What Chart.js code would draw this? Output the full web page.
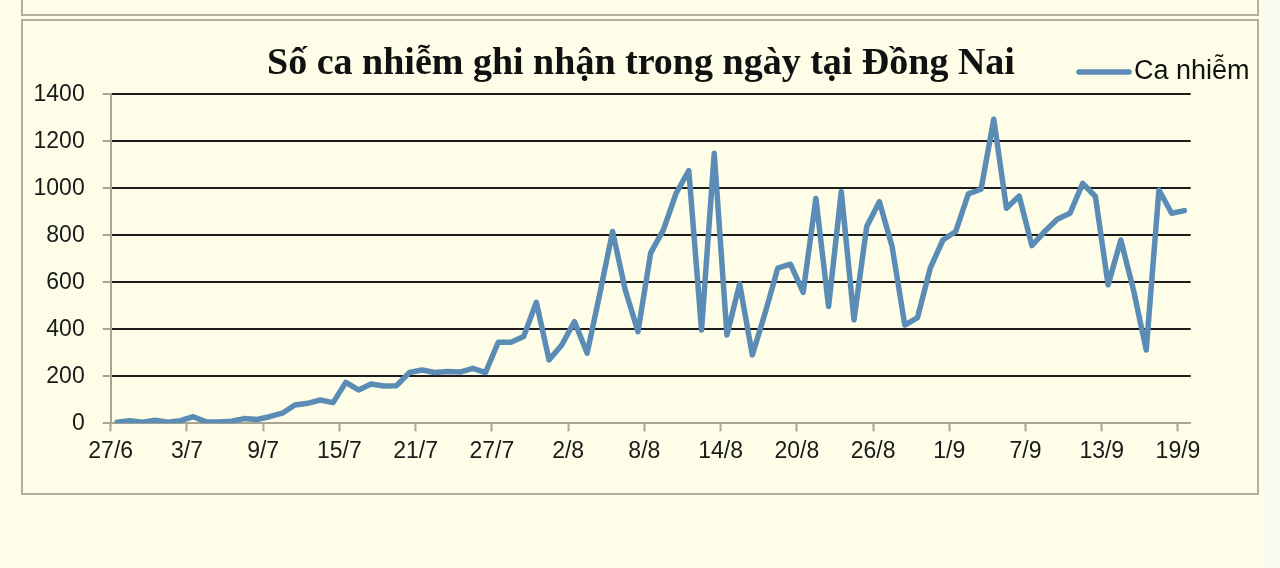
<!DOCTYPE html>
<html>
<head>
<meta charset="utf-8">
<script src="https://cdn.jsdelivr.net/npm/chart.js@4"></script>
<style>
  html, body { margin: 0; padding: 0; background: #fdfde8; }
  #wrap { width: 1280px; height: 568px; position: relative; }
</style>
</head>
<body>
<div id="wrap"><canvas id="chart" width="1280" height="568"></canvas></div>
<script>
// Dates 27/6 -> 19/9
const dates = [
  "27/6", "28/6", "29/6", "30/6",
  "1/7", "2/7", "3/7", "4/7", "5/7", "6/7", "7/7", "8/7", "9/7", "10/7",
  "11/7", "12/7", "13/7", "14/7", "15/7", "16/7", "17/7", "18/7", "19/7", "20/7",
  "21/7", "22/7", "23/7", "24/7", "25/7", "26/7", "27/7", "28/7", "29/7", "30/7", "31/7",
  "1/8", "2/8", "3/8", "4/8", "5/8", "6/8", "7/8", "8/8", "9/8", "10/8",
  "11/8", "12/8", "13/8", "14/8", "15/8", "16/8", "17/8", "18/8", "19/8", "20/8",
  "21/8", "22/8", "23/8", "24/8", "25/8", "26/8", "27/8", "28/8", "29/8", "30/8", "31/8",
  "1/9", "2/9", "3/9", "4/9", "5/9", "6/9", "7/9", "8/9", "9/9", "10/9",
  "11/9", "12/9", "13/9", "14/9", "15/9", "16/9", "17/9", "18/9", "19/9",
]

// Daily cases
const cases = [
  5, 11, 5, 13, 5, 11, 28, 6, 6, 9, 20, 16, 28,
  43, 78, 85, 99, 88, 174, 142, 167, 159, 160, 216, 227, 216, 220, 218, 234,
  216, 345, 345, 369, 515, 270, 333, 433, 298, 553, 816, 567, 390,
  725, 823, 979, 1075, 397, 1149, 376, 593, 291, 468, 660, 677, 557, 957, 497,
  986, 440, 837, 943, 752, 418, 450, 660, 780, 816, 976, 996, 1294,
  915, 967, 756, 816, 868, 894, 1021, 965, 589, 780, 567, 312, 993, 894, 905,
]

const seriesName = "Ca nhiễm"
const chartTitle = "Số ca nhiễm ghi nhận trong ngày tại Đồng Nai"
const labelEvery = 6

const lineColor = "#5b8cb5"
const frameColor = "#b2b09c"
const axisColor = "#a9a590"

// page background, frames, title and legend
const pagePlugin = {
  id: "pageDecor",
  beforeDraw: (chart) => {
    const ctx = chart.ctx
    ctx.save()
    ctx.fillStyle = "#fdfde8"
    ctx.fillRect(0, 0, chart.width, chart.height)
    ctx.fillStyle = "#fbfbf3"
    ctx.fillRect(1262, 0, 18, chart.height)

    ctx.strokeStyle = frameColor
    ctx.lineWidth = 2
    // bottom of the previous panel
    ctx.beginPath()
    ctx.moveTo(22, -2)
    ctx.lineTo(22, 15)
    ctx.lineTo(1258, 15)
    ctx.lineTo(1258, -2)
    ctx.stroke()
    // chart panel
    ctx.strokeRect(22, 20, 1236, 474)
    ctx.restore()
  },
  afterDraw: (chart) => {
    const ctx = chart.ctx
    ctx.save()
    ctx.fillStyle = "#111"
    ctx.font = "bold 38px 'Liberation Serif', 'Times New Roman', serif"
    ctx.textAlign = "center"
    ctx.textBaseline = "alphabetic"
    ctx.fillText(chartTitle, 641, 74)

    // legend
    ctx.strokeStyle = lineColor
    ctx.lineWidth = 5.5
    ctx.lineCap = "round"
    ctx.beginPath()
    ctx.moveTo(1079, 72)
    ctx.lineTo(1129, 72)
    ctx.stroke()
    ctx.fillStyle = "#111"
    ctx.font = "27px 'Liberation Sans', Arial, sans-serif"
    ctx.textAlign = "left"
    ctx.textBaseline = "middle"
    ctx.fillText(seriesName, 1134, 72)
    ctx.restore()
  },
}

new Chart(document.getElementById("chart"), {
  type: "line",
  data: {
    labels: dates,
    datasets: [
      {
        label: seriesName,
        data: cases,
        borderColor: lineColor,
        backgroundColor: lineColor,
        borderWidth: 5.5,
        borderJoinStyle: "round",
        borderCapStyle: "round",
        tension: 0,
        pointRadius: 0,
        pointHoverRadius: 0,
      },
    ],
  },
  options: {
    responsive: false,
    animation: false,
    events: [],
    layout: {
      padding: { top: 94.3, left: 0, right: 89.3, bottom: 84.7 },
    },
    plugins: {
      legend: { display: false },
      title: { display: false },
      tooltip: { enabled: false },
    },
    scales: {
      x: {
        type: "category",
        offset: true,
        afterFit: (scale) => {
          scale.height = 60
        },
        border: { display: true, color: axisColor, width: 2 },
        grid: {
          offset: true,
          drawOnChartArea: false,
          drawTicks: true,
          tickLength: 8,
          tickWidth: 2,
          tickColor: (c) => (c.index % labelEvery === 0 ? axisColor : "rgba(0,0,0,0)"),
        },
        ticks: {
          autoSkip: false,
          maxRotation: 0,
          minRotation: 0,
          padding: 7,
          labelOffset: -6.35,
          color: "#1a1a1a",
          font: { family: "'Liberation Sans', Arial, sans-serif", size: 23 },
          callback: function (value, index) {
            return index % labelEvery === 0 ? this.getLabelForValue(value) : ""
          },
        },
      },
      y: {
        min: 0,
        max: 1400,
        afterFit: (scale) => {
          scale.width = 110.7
        },
        border: { display: true, color: axisColor, width: 2 },
        grid: {
          color: (c) => (c.tick && c.tick.value === 0 ? "rgba(0,0,0,0)" : "#1c1c1c"),
          lineWidth: 2,
          drawTicks: true,
          tickLength: 8,
          tickWidth: 2,
          tickColor: axisColor,
        },
        ticks: {
          stepSize: 200,
          padding: 18,
          color: "#1a1a1a",
          font: { family: "'Liberation Sans', Arial, sans-serif", size: 23 },
          callback: (value) => String(value),
        },
      },
    },
  },
  plugins: [pagePlugin],
})
</script>
</body>
</html>
